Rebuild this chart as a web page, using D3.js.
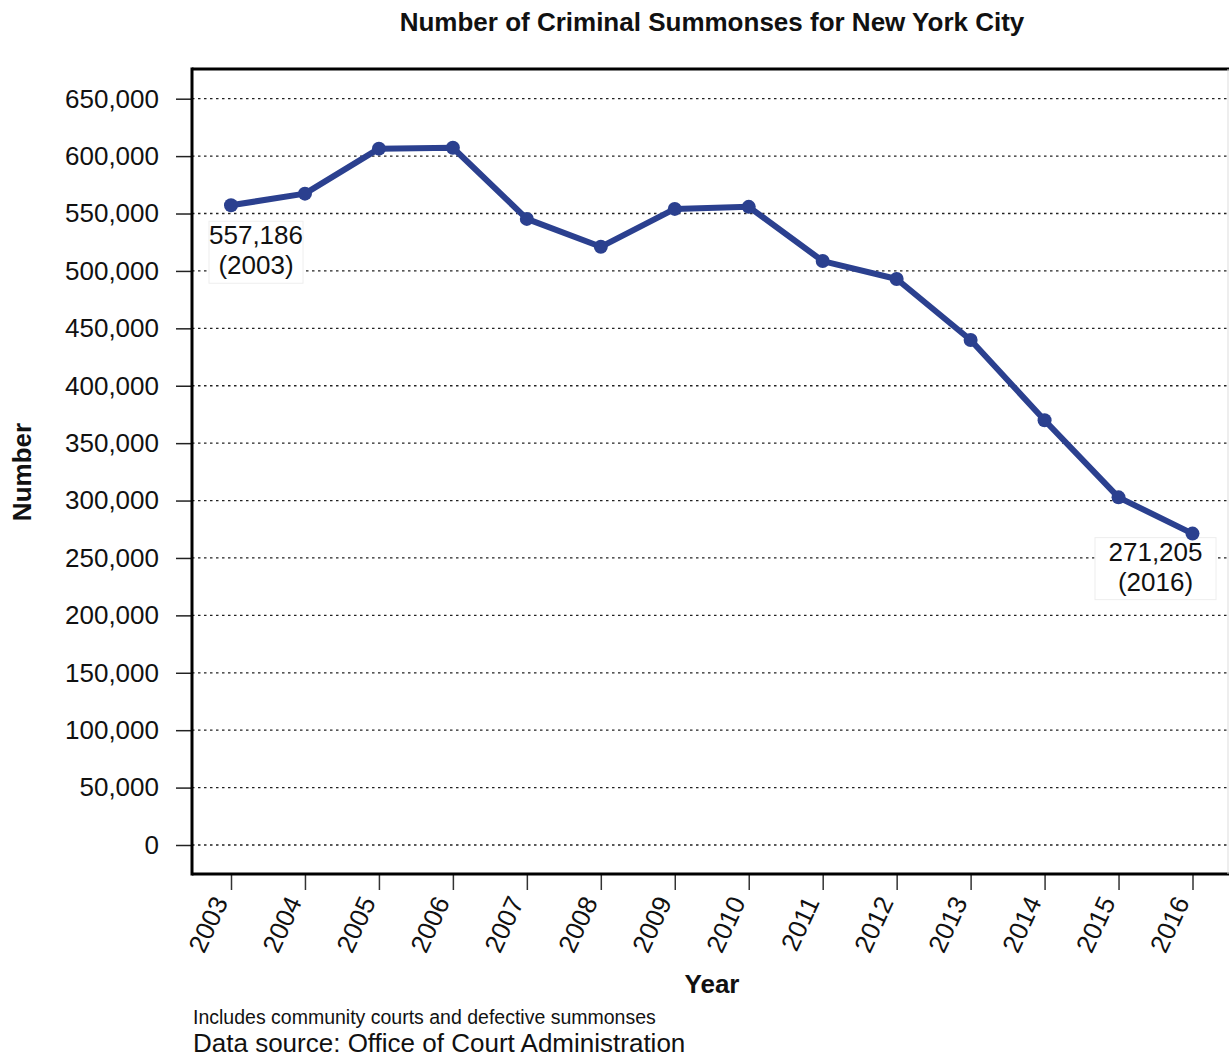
<!DOCTYPE html>
<html><head><meta charset="utf-8">
<script src="https://cdn.jsdelivr.net/npm/d3@7/dist/d3.min.js"></script>
<style>body{margin:0;background:#fff;}svg{display:block;font-family:"Liberation Sans",Arial,sans-serif;}</style>
</head><body>
<script>
const years = [2003,2004,2005,2006,2007,2008,2009,2010,2011,2012,2013,2014,2015,2016];
const summonses = [557186,567300,606500,607300,545300,521000,554000,555800,508600,493000,439800,370000,302800,271205];
const yTicks = [0,50000,100000,150000,200000,250000,300000,350000,400000,450000,500000,550000,600000,650000];
const annotations = [{year:2003, value:557186},{year:2016, value:271205}];

(function(){
const W=1229,H=1059;
const svg=d3.select("body").append("svg").attr("width",W).attr("height",H);
const pL=192, pR=1228, pT=69, pB=874;
const x=d3.scaleLinear().domain([2003,2016]).range([231,1192.5]);
const y=d3.scaleLinear().domain([0,650000]).range([845,98.7]);
const fmt=d3.format(",");
const FS=26;

svg.append("g").selectAll("line").data(yTicks).join("line")
  .attr("x1",pL).attr("x2",pR).attr("y1",d=>y(d)).attr("y2",d=>y(d))
  .attr("stroke","#222").attr("stroke-width",1.3).attr("stroke-dasharray","2.5,3.5");

const ya=svg.append("g").attr("transform",`translate(${pL},0)`)
  .call(d3.axisLeft(y).tickValues(yTicks).tickFormat(fmt).tickSize(16).tickPadding(17));
ya.select(".domain").remove();
ya.selectAll(".tick line").attr("stroke","#222").attr("stroke-width",1.5);
ya.selectAll(".tick text").attr("font-size",FS).attr("fill","#111").attr("font-family","Liberation Sans, Arial, sans-serif");

const xa=svg.append("g").attr("transform",`translate(0,${pB})`)
  .call(d3.axisBottom(x).tickValues(years).tickFormat(d3.format("d")).tickSize(16));
xa.select(".domain").remove();
xa.selectAll(".tick line").attr("stroke","#333").attr("stroke-width",1.5);
xa.selectAll(".tick text").attr("font-size",FS).attr("fill","#111").attr("font-family","Liberation Sans, Arial, sans-serif")
  .attr("text-anchor","end").attr("dy",0).attr("y",0)
  .attr("transform","translate(-3,28) rotate(-65)");

svg.append("line").attr("x1",pL).attr("x2",pL).attr("y1",pT-1.5).attr("y2",pB+1.5).attr("stroke","#000").attr("stroke-width",3);
svg.append("line").attr("x1",pL).attr("x2",W).attr("y1",pT).attr("y2",pT).attr("stroke","#000").attr("stroke-width",3);
svg.append("line").attr("x1",pL).attr("x2",W).attr("y1",pB).attr("y2",pB).attr("stroke","#000").attr("stroke-width",3);
svg.append("line").attr("x1",pR).attr("x2",pR).attr("y1",pT).attr("y2",pB).attr("stroke","#ddd").attr("stroke-width",1);

annotations.forEach(a=>{
  const first=a.year===2003;
  const px=x(a.year), py=y(a.value);
  const cx=px+(first?25:-37);
  const b1=py+(first?39:27);
  const bw=first?94:121;
  const g=svg.append("g");
  g.append("rect").attr("x",cx-bw/2).attr("y",b1-23).attr("width",bw).attr("height",62)
    .attr("fill","#fff").attr("stroke","#eee").attr("stroke-width",1);
  g.append("text").attr("x",cx).attr("y",b1).attr("text-anchor","middle").attr("font-size",FS).attr("fill","#111").text(fmt(a.value));
  g.append("text").attr("x",cx).attr("y",b1+30).attr("text-anchor","middle").attr("font-size",FS).attr("fill","#111").text(`(${a.year})`);
});

const color="#2b408f";
const data=years.map((yr,i)=>({year:yr,value:summonses[i]}));
svg.append("path").datum(data)
  .attr("d",d3.line().x(d=>x(d.year)).y(d=>y(d.value)))
  .attr("fill","none").attr("stroke",color).attr("stroke-width",6).attr("stroke-linejoin","round");
svg.append("g").selectAll("circle").data(data).join("circle")
  .attr("cx",d=>x(d.year)).attr("cy",d=>y(d.value)).attr("r",7).attr("fill",color);

svg.append("text").attr("x",712).attr("y",31).attr("text-anchor","middle").attr("font-size",FS).attr("font-weight","bold").attr("fill","#111")
  .text("Number of Criminal Summonses for New York City");
svg.append("text").attr("x",712).attr("y",993).attr("text-anchor","middle").attr("font-size",FS).attr("font-weight","bold").attr("fill","#111").text("Year");
svg.append("text").attr("transform","translate(31,472) rotate(-90)").attr("text-anchor","middle").attr("font-size",FS).attr("font-weight","bold").attr("fill","#111").text("Number");
svg.append("text").attr("x",193).attr("y",1024).attr("font-size",19.5).attr("fill","#111").text("Includes community courts and defective summonses");
svg.append("text").attr("x",193).attr("y",1052).attr("font-size",FS).attr("fill","#111").text("Data source: Office of Court Administration");
})();
</script>
</body></html>
